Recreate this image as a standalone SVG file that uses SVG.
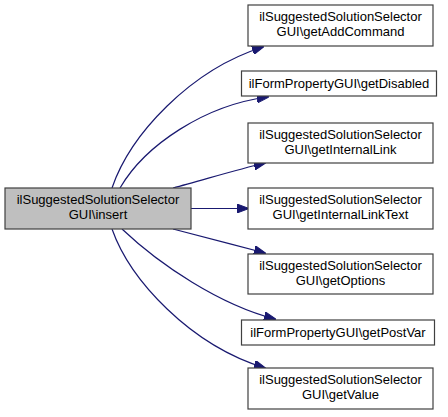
<svg xmlns="http://www.w3.org/2000/svg" width="448" height="417" viewBox="0 0 448 417">
<style>
.n rect{fill:#ffffff;stroke:#404040;stroke-width:1.2}
.m rect{fill:#bfbfbf;stroke:#404040;stroke-width:1.2}
text{font-family:"Liberation Sans",Arial,sans-serif;font-size:13px;fill:#000;text-anchor:middle}
.e path{fill:none;stroke:#191970;stroke-width:1.2}
</style>
<defs>
<marker id="a" markerWidth="12" markerHeight="9" refX="11" refY="4.5" orient="auto" markerUnits="userSpaceOnUse">
<path d="M0,0 L12,4.5 L0,9 Z" fill="#191970" stroke="#191970" stroke-width="1"/>
</marker>
</defs>
<rect width="448" height="417" fill="#ffffff"/>
<g class="e" id="edges">
<path d="M112,188 C130,135 190,70 263,47" marker-end="url(#a)"/>
<path d="M120,188 C145,145 205,105 268,97" marker-end="url(#a)"/>
<path d="M173,188 C200,181 235,170 265,163" marker-end="url(#a)"/>
<path d="M191,208.5 L248,208.5" marker-end="url(#a)"/>
<path d="M173,229 C200,236 235,245 265,253" marker-end="url(#a)"/>
<path d="M122,229 C160,265 220,305 275,319" marker-end="url(#a)"/>
<path d="M112,229 C130,280 190,345 265,368" marker-end="url(#a)"/>
</g>
<g class="m" id="node-insert">
<rect x="5" y="188" width="186" height="41"/>
<text x="98" y="204">ilSuggestedSolutionSelector</text>
<text x="98" y="219">GUI\insert</text>
</g>
<g class="n" id="node-getAddCommand">
<rect x="248" y="5" width="185" height="41"/>
<text x="340.5" y="21">ilSuggestedSolutionSelector</text>
<text x="340.5" y="36">GUI\getAddCommand</text>
</g>
<g class="n" id="node-getDisabled">
<rect x="241.5" y="71" width="195" height="25"/>
<text x="339" y="88">ilFormPropertyGUI\getDisabled</text>
</g>
<g class="n" id="node-getInternalLink">
<rect x="248" y="123" width="185" height="40"/>
<text x="340.5" y="139">ilSuggestedSolutionSelector</text>
<text x="340.5" y="154">GUI\getInternalLink</text>
</g>
<g class="n" id="node-getInternalLinkText">
<rect x="248" y="188" width="185" height="41"/>
<text x="340.5" y="204">ilSuggestedSolutionSelector</text>
<text x="340.5" y="219">GUI\getInternalLinkText</text>
</g>
<g class="n" id="node-getOptions">
<rect x="248" y="254" width="185" height="40"/>
<text x="340.5" y="270">ilSuggestedSolutionSelector</text>
<text x="340.5" y="285">GUI\getOptions</text>
</g>
<g class="n" id="node-getPostVar">
<rect x="241.5" y="320" width="193" height="25"/>
<text x="338" y="337">ilFormPropertyGUI\getPostVar</text>
</g>
<g class="n" id="node-getValue">
<rect x="248" y="368" width="185" height="41"/>
<text x="340.5" y="384">ilSuggestedSolutionSelector</text>
<text x="340.5" y="399">GUI\getValue</text>
</g>
</svg>
